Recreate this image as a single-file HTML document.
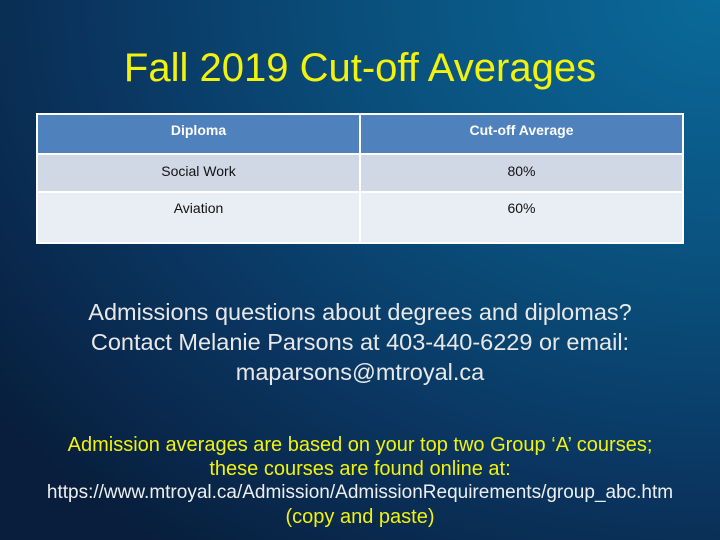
<!DOCTYPE html>
<html><head><meta charset="utf-8"><style>
body{margin:0}
#slide{position:relative;width:720px;height:540px;overflow:hidden;font-family:"Liberation Sans",sans-serif;
background:radial-gradient(ellipse 900px 700px at 720px 0px,#0a6a9a 0%,#0a4f7c 40%,#0a3560 70%,#081e3c 100%);}
.t{position:absolute;left:0;width:720px;text-align:center;white-space:nowrap}
table{position:absolute;left:36px;top:113px;width:648px;border-collapse:collapse;font-size:14px;color:#111}
td{border:2px solid #fff;text-align:center;vertical-align:top}
</style></head><body>
<div id="slide">
<div class="t" style="top:46px;font-size:40px;color:#f2f20c">Fall 2019 Cut-off Averages</div>
<table>
<tr style="background:#4f81bd;color:#fff;font-weight:bold;height:40px"><td style="padding-top:7px;width:50%">Diploma</td><td style="padding-top:7px">Cut-off Average</td></tr>
<tr style="background:#d0d8e6;height:38px"><td style="padding-top:8px">Social Work</td><td style="padding-top:8px">80%</td></tr>
<tr style="background:#e9edf4;height:51px"><td style="padding-top:7px">Aviation</td><td style="padding-top:7px">60%</td></tr>
</table>
<div class="t" style="top:297px;font-size:23.5px;line-height:30px;color:#e8e8e8">Admissions questions about degrees and diplomas?<br>Contact Melanie Parsons at 403-440-6229 or email:<br>maparsons@mtroyal.ca</div>
<div class="t" style="top:433px;font-size:20px;line-height:24px;color:#f2f20c">Admission averages are based on your top two Group ‘A’ courses;<br>these courses are found online at:</div>
<div class="t" style="top:482px;font-size:19px;color:#eee">https://www.mtroyal.ca/Admission/AdmissionRequirements/group_abc.htm</div>
<div class="t" style="top:506px;font-size:20px;color:#f2f20c">(copy and paste)</div>
</div>
</body></html>
